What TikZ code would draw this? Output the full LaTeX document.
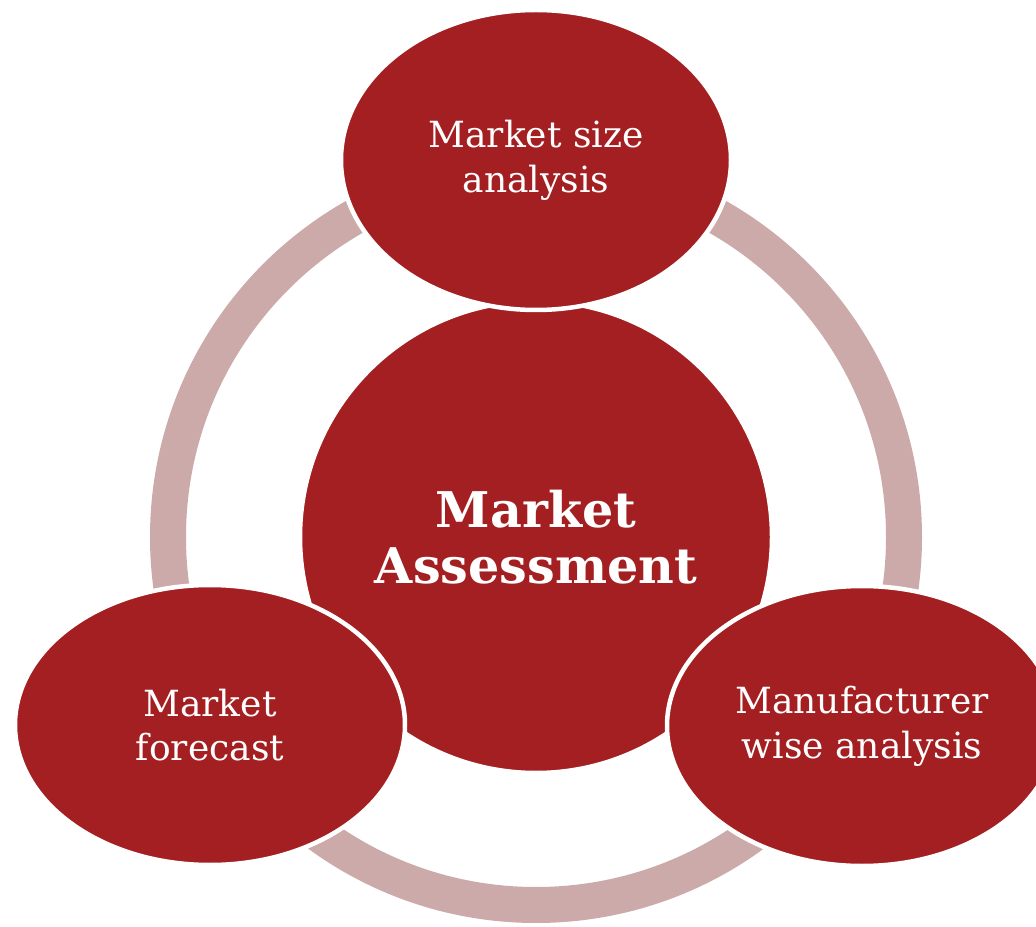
\documentclass[tikz,border=0pt]{standalone}
\usepackage{fontspec}
\setmainfont{DejaVu Serif}
\usetikzlibrary{shapes.geometric,positioning}
\definecolor{assessred}{HTML}{A31F21}
\definecolor{ringpink}{HTML}{CDAAAA}
\tikzset{
  cycle ring/.style={draw=ringpink,line width=0.72cm},
  hubdisc/.style={circle,fill=assessred,draw=white,line width=0.09cm,minimum size=9.44cm,inner sep=0pt,
    text=white,align=center,font=\fontsize{28}{32}\selectfont\bfseries},
  stagebox/.style={ellipse,fill=assessred,draw=white,line width=0.09cm,minimum width=7.8cm,minimum height=5.6cm,
    inner sep=0pt,text=white,align=center,font=\fontsize{20.5}{25.5}\selectfont}
}

\begin{document}
\begin{tikzpicture}
  \clip (0,0) rectangle (20.72,-18.54);
  \coordinate (O) at (10.72,-10.74);
  % ring linking the three stages
  \draw[cycle ring] (O) circle (7.36cm);
  \node[hubdisc] (hub) at (O) {Market\\Assessment};
  \node[stagebox,minimum height=6cm] (size) at (10.72,-3.2) {Market size\\analysis};
  \node[stagebox] (forecast) at (4.2,-14.5) {Market\\forecast};
  \node[stagebox] (maker) at (17.24,-14.52) {Manufacturer\\wise analysis};
\end{tikzpicture}
\end{document}
